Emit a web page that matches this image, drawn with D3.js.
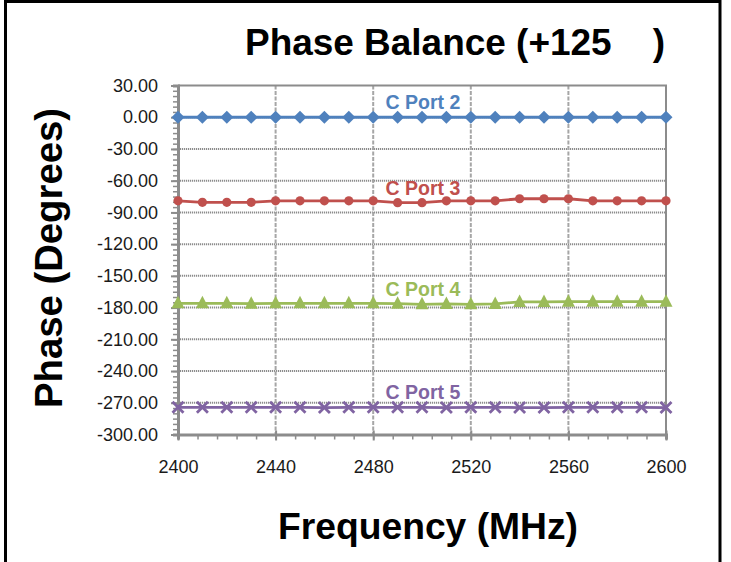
<!DOCTYPE html>
<html><head><meta charset="utf-8">
<script src="https://cdn.jsdelivr.net/npm/d3@7"></script>
<style>body{margin:0;background:#fff}svg{display:block}</style>
</head><body>
<svg id="c" width="731" height="562"></svg>
<script>
const freqs = [2400,2410,2420,2430,2440,2450,2460,2470,2480,2490,2500,2510,2520,2530,2540,2550,2560,2570,2580,2590,2600];
const port2 = [0,0,0,0,0,0,0,0,0,0,0,0,0,0,0,0,0,0,0,0,0];
const port3 = [-79.0,-80.5,-80.5,-80.5,-79.0,-79.0,-79.0,-79.0,-79.0,-80.8,-80.8,-79.0,-79.0,-79.0,-77.1,-77.1,-77.1,-79.0,-79.0,-79.0,-79.0];
const port4 = [-176.0,-176.0,-176.0,-176.3,-176.0,-176.0,-176.0,-176.0,-176.0,-176.3,-176.9,-176.5,-176.9,-176.5,-174.6,-174.6,-174.4,-174.4,-174.4,-174.4,-174.4];
const port5 = [-274.3,-274.3,-274.3,-274.3,-274.3,-274.3,-274.5,-274.3,-274.3,-274.3,-274.3,-274.5,-274.3,-274.3,-274.5,-274.5,-274.3,-274.3,-274.3,-274.3,-274.5];
const seriesNames = ["C Port 2","C Port 3","C Port 4","C Port 5"];
const seriesColors = ["#4F81BD","#C0504D","#9BBB59","#8064A2"];
const seriesMarkers = ["diamond","circle","triangle","x"];
const yTicks = [30,0,-30,-60,-90,-120,-150,-180,-210,-240,-270,-300];
const xTicks = [2400,2440,2480,2520,2560,2600];
const titleText = "Phase Balance (+125\u00A0\u00A0\u00A0\u00A0)";
const xTitle = "Frequency (MHz)";
const yTitle = "Phase (Degrees)";
const labelAt = 2500;

const svg = d3.select("#c");
const font = "'Liberation Sans', Arial, Helvetica, sans-serif";
const x = d3.scaleLinear().domain([2400,2600]).range([178,666]);
const y = d3.scaleLinear().domain([-300,30]).range([434.5,85.5]);

// outer frame
svg.append("rect").attr("x",5.5).attr("y",1.5).attr("width",714.5).attr("height",600)
  .attr("fill","none").attr("stroke","#000").attr("stroke-width",3);

// horizontal gridlines
svg.append("g").selectAll("line").data(yTicks.filter(d=>d>-300 && d<30)).join("line")
  .attr("x1",x(2400)).attr("x2",x(2600)).attr("y1",d=>y(d)).attr("y2",d=>y(d))
  .attr("stroke","#8c8c8c").attr("stroke-width",2).attr("stroke-dasharray","1.2,0.8");
// vertical gridlines
svg.append("g").selectAll("line").data(xTicks.filter(d=>d>2400 && d<2600)).join("line")
  .attr("x1",d=>x(d)).attr("x2",d=>x(d)).attr("y1",y(30)).attr("y2",y(-300))
  .attr("stroke","#a6a6a6").attr("stroke-width",2).attr("stroke-dasharray","4,1.5");
// top & right border
svg.append("path").attr("d",`M${x(2400)},${y(30)}H${x(2600)}V${y(-300)}`)
  .attr("fill","none").attr("stroke","#8c8c8c").attr("stroke-width",2);

// y axis with minor ticks
const yMinor = d3.range(-300,30.1,5);
const yAx = d3.axisLeft(y).tickValues(yMinor).tickSize(5).tickFormat("");
const gy = svg.append("g").attr("transform",`translate(${x(2400)},0)`).call(yAx);
gy.select(".domain").attr("stroke","#8c8c8c").attr("stroke-width",3);
gy.selectAll(".tick line").attr("stroke","#8c8c8c").attr("stroke-width",1.5);
const fmtY = d => d.toFixed(2);
const yAxMajor = d3.axisLeft(y).tickValues(yTicks).tickSize(7).tickPadding(13).tickFormat(fmtY);
const gy2 = svg.append("g").attr("transform",`translate(${x(2400)},0)`).call(yAxMajor);
gy2.select(".domain").remove();
gy2.selectAll(".tick line").attr("stroke","#8c8c8c").attr("stroke-width",2);
gy2.selectAll(".tick text").attr("font-family",font).attr("font-size",18).attr("fill","#1a1a1a");

// x axis with minor ticks
const xMinor = d3.range(2400,2600.1,8);
const xAx = d3.axisBottom(x).tickValues(xMinor).tickSize(5).tickFormat("");
const gx = svg.append("g").attr("transform",`translate(0,${y(-300)})`).call(xAx);
gx.select(".domain").attr("stroke","#8c8c8c").attr("stroke-width",3);
gx.selectAll(".tick line").attr("stroke","#8c8c8c").attr("stroke-width",1.5);
const xAxMajor = d3.axisBottom(x).tickValues(xTicks).tickSize(6).tickPadding(20).tickFormat(d=>String(d));
const gx2 = svg.append("g").attr("transform",`translate(0,${y(-300)})`).call(xAxMajor);
gx2.select(".domain").remove();
gx2.selectAll(".tick line").attr("stroke","#8c8c8c").attr("stroke-width",2).attr("y1",-4);
gx2.selectAll(".tick text").attr("font-family",font).attr("font-size",18).attr("fill","#1a1a1a");

// series
const allSeries = [port2,port3,port4,port5];
const line = d3.line().x((d,i)=>x(freqs[i])).y(d=>y(d));
allSeries.forEach((vals,si)=>{
  const col = seriesColors[si];
  const g = svg.append("g");
  g.append("path").datum(vals).attr("d",line).attr("fill","none").attr("stroke",col).attr("stroke-width",2.8);
  const m = seriesMarkers[si];
  const pts = g.selectAll("g.pt").data(vals).join("g").attr("class","pt")
    .attr("transform",(d,i)=>`translate(${x(freqs[i])},${y(d)})`);
  if(m==="diamond") pts.append("path").attr("d","M0,-6.5L6.5,0L0,6.5L-6.5,0Z").attr("fill",col);
  if(m==="circle") pts.append("circle").attr("r",4.6).attr("fill",col);
  if(m==="triangle") pts.append("path").attr("d","M0,-7.5L6.5,5L-6.5,5Z").attr("fill",col);
  if(m==="x") pts.append("path").attr("d","M-5.5,-5.5L5.5,5.5M-5.5,5.5L5.5,-5.5").attr("stroke",col).attr("stroke-width",2.8);
  const li = freqs.indexOf(labelAt);
  svg.append("text").attr("x",x(labelAt)+1).attr("y",y(vals[li])-8).attr("text-anchor","middle")
    .attr("font-family",font).attr("font-weight","bold").attr("font-size",19.5).attr("fill",col)
    .text(seriesNames[si]);
});

// titles
svg.append("text").attr("x",245).attr("y",55).attr("font-family",font).attr("font-weight","bold")
  .attr("font-size",37).attr("textLength",420).attr("lengthAdjust","spacingAndGlyphs").attr("fill","#000").text(titleText);
svg.append("text").attr("x",428).attr("y",539).attr("text-anchor","middle").attr("font-family",font).attr("font-weight","bold")
  .attr("font-size",37).attr("textLength",300).attr("lengthAdjust","spacingAndGlyphs").attr("fill","#000").text(xTitle);
svg.append("text").attr("transform","translate(62,258) rotate(-90)").attr("text-anchor","middle").attr("font-family",font).attr("font-weight","bold")
  .attr("font-size",38).attr("textLength",300).attr("lengthAdjust","spacingAndGlyphs").attr("fill","#000").text(yTitle);
</script>
</body></html>
